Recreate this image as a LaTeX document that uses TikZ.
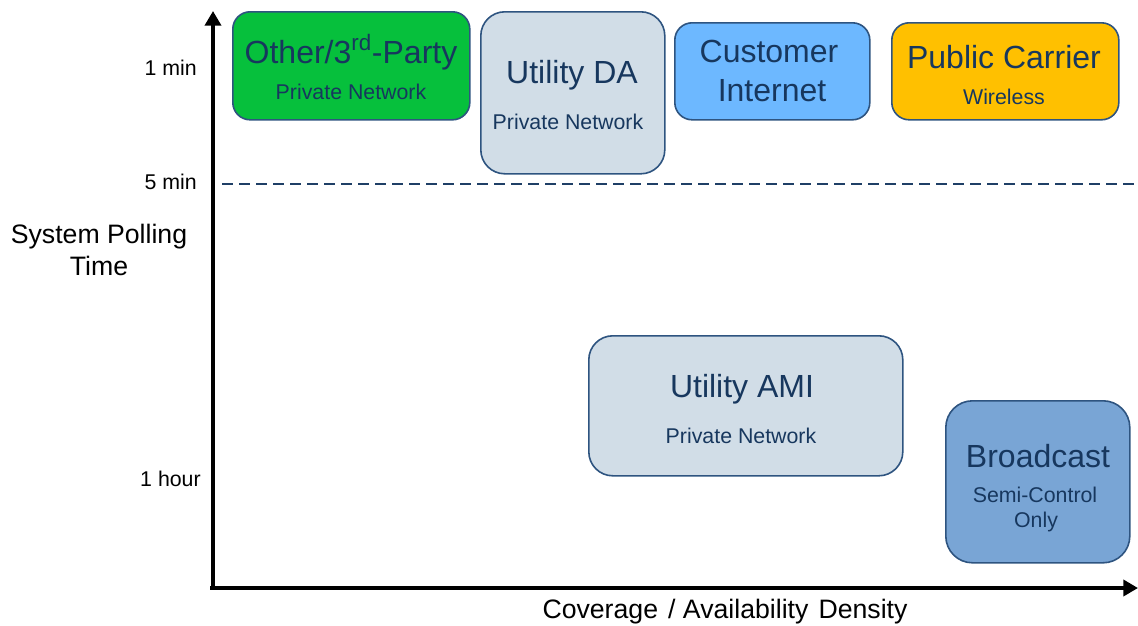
\documentclass[tikz,border=0pt]{standalone}
\usepackage{fontspec}
\setmainfont{Liberation Sans}
\usetikzlibrary{arrows.meta}
\definecolor{txtblue}{HTML}{17375E}
\definecolor{edgeblue}{HTML}{2E5480}
\definecolor{dashblue}{HTML}{1F3F66}
\definecolor{greenfill}{HTML}{06C03C}
\definecolor{greyfill}{HTML}{D1DDE7}
\definecolor{skyfill}{HTML}{6DB8FF}
\definecolor{orangefill}{HTML}{FFC000}
\definecolor{bcfill}{HTML}{79A5D5}
\tikzset{
  box/.style={draw=edgeblue, line width=1.2pt, inner sep=0pt, anchor=north west},
  title/.style={text=txtblue, anchor=base, inner sep=0pt, font=\fontsize{24}{28}\selectfont},
  sub/.style={text=txtblue, anchor=base, inner sep=0pt, font=\fontsize{16}{19}\selectfont},
  tick/.style={text=black, anchor=base east, inner sep=0pt, font=\fontsize{16}{19}\selectfont},
  axlabel/.style={text=black, anchor=base, inner sep=0pt, font=\fontsize{20}{24}\selectfont},
  axis/.style={line width=3pt, -{Triangle[length=11pt,width=12pt]}},
}
\begin{document}
\begin{tikzpicture}[x=0.75pt,y=-0.75pt]
\useasboundingbox (0,0) rectangle (1138,625);
% boxes
\node[box, fill=greenfill, rounded corners=13pt, minimum width=237*0.75pt, minimum height=108*0.75pt] (other) at (232,11) {};
\node[box, fill=greyfill, rounded corners=18pt, minimum width=184*0.75pt, minimum height=162*0.75pt] (da) at (480,11) {};
\node[box, fill=skyfill, rounded corners=13pt, minimum width=195*0.75pt, minimum height=97*0.75pt] (cust) at (674,22) {};
\node[box, fill=orangefill, rounded corners=13pt, minimum width=227*0.75pt, minimum height=97*0.75pt] (pub) at (891,22) {};
\node[box, fill=greyfill, rounded corners=18pt, minimum width=314*0.75pt, minimum height=140*0.75pt] (ami) at (588,335) {};
\node[box, fill=bcfill, rounded corners=20pt, minimum width=184*0.75pt, minimum height=162*0.75pt] (bc) at (945,400) {};
% box texts
\node[title] (otherT) at (351,63) {Other/3\textsuperscript{rd}-Party};
\node[sub] (otherS) at (351,99) {Private Network};
\node[title] (daT) at (572,83) {Utility DA};
\node[sub] (daS) at (568,129) {Private Network};
\node[title] (custT) at (769,62) {Customer};
\node[title] (custT2) at (772,101) {Internet};
\node[title] (pubT) at (1004,68) {Public Carrier};
\node[sub] (pubS) at (1004,104) {Wireless};
\node[title] (amiT) at (742,397) {Utility AMI};
\node[sub] (amiS) at (741,443) {Private Network};
\node[title] (bcT) at (1038,467) {Broadcast};
\node[sub] (bcS) at (1035,502) {Semi-Control};
\node[sub] (bcS2) at (1036,527) {Only};
% axis labels
\node[tick] (t1) at (197,75) {1 min};
\node[tick] (t5) at (197,189) {5 min};
\node[tick] (th) at (201,486) {1 hour};
\node[axlabel] (yl1) at (99,243) {System Polling};
\node[axlabel] (yl2) at (99,275) {Time};
\node[axlabel] (xl) at (725,618) {Coverage\hspace{2pt} / Availability\hspace{2pt} Density};
% axes
\coordinate (origin) at (213,588);
\coordinate (ytop) at (213,11);
\coordinate (xend) at (1138,588);
\draw[axis] (origin) -- (ytop);
\draw[axis] ([xshift=-2pt]origin) -- (xend);
% dashed threshold
\coordinate (dL) at (222,184);
\coordinate (dR) at (1138,184);
\draw[dashblue, line width=1.9pt, dash pattern=on 8.25pt off 4.5pt] (dL) -- (dR);
\end{tikzpicture}
\end{document}
